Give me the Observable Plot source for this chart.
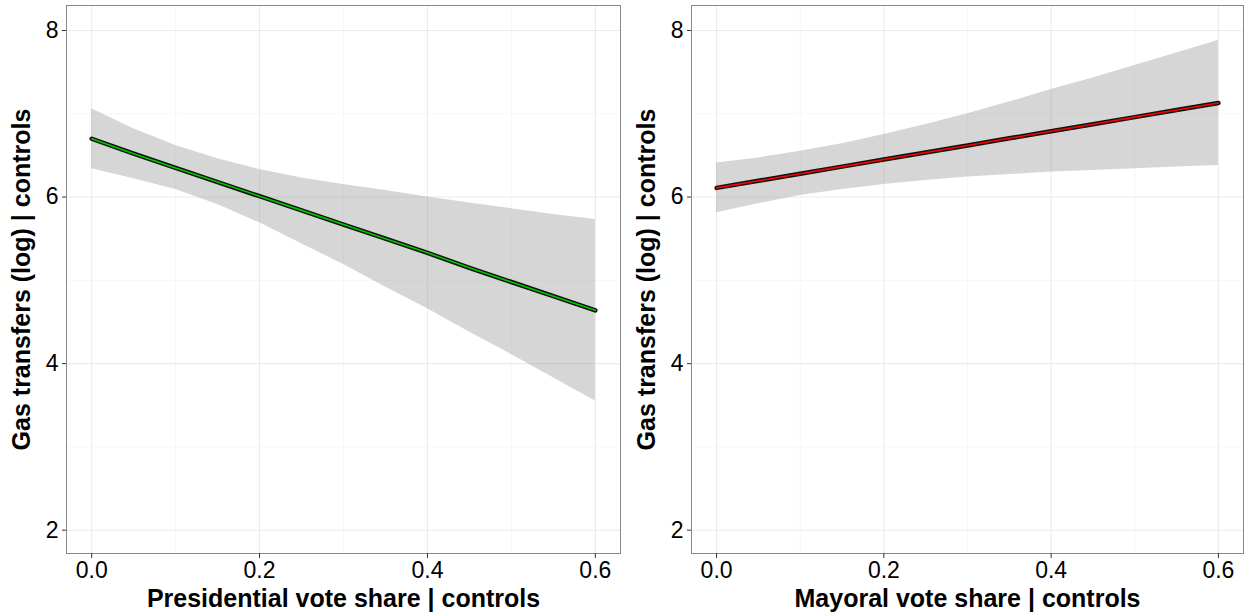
<!DOCTYPE html>
<html><head><meta charset="utf-8">
<script src="https://cdn.jsdelivr.net/npm/d3@7"></script>
<script src="https://cdn.jsdelivr.net/npm/@observablehq/plot@0.6"></script>
<style>
body{margin:0;background:#fff;}
#wrap{display:flex;width:1248px;height:615px;}
svg{font-family:"Liberation Sans",Arial,sans-serif;}
g[aria-label="x-axis label"] text, g[aria-label="y-axis label"] text{font-size:25px;font-weight:bold;fill:#000;}
</style></head><body><div id="wrap"></div>
<script>
// x positions of the fitted line / confidence band
const xs = [0, 0.05, 0.1, 0.15, 0.2, 0.25, 0.3, 0.35, 0.4, 0.45, 0.5, 0.55, 0.6];
// Presidential panel
const presFit   = [6.70, 6.52, 6.35, 6.18, 6.01, 5.84, 5.67, 5.50, 5.33, 5.15, 4.98, 4.81, 4.64];
const presUpper = [7.06, 6.82, 6.62, 6.46, 6.33, 6.23, 6.15, 6.08, 6.00, 5.93, 5.86, 5.79, 5.73];
const presLower = [6.34, 6.22, 6.09, 5.91, 5.69, 5.44, 5.19, 4.92, 4.66, 4.38, 4.11, 3.83, 3.55];
// Mayoral panel
const mayFit    = [6.11, 6.195, 6.28, 6.365, 6.45, 6.535, 6.62, 6.705, 6.79, 6.875, 6.96, 7.045, 7.13];
const mayUpper  = [6.41, 6.47, 6.55, 6.64, 6.75, 6.87, 7.00, 7.14, 7.29, 7.43, 7.58, 7.73, 7.88];
const mayLower  = [5.81, 5.92, 6.02, 6.09, 6.15, 6.20, 6.24, 6.27, 6.30, 6.32, 6.34, 6.36, 6.38];

const xMajorTicks = [0, 0.2, 0.4, 0.6];
const xMinorTicks = [0.1, 0.3, 0.5];
const yMajorTicks = [2, 4, 6, 8];
const yMinorTicks = [3, 5, 7];
const yLabel = "Gas transfers (log) | controls";
const xLabelPres = "Presidential vote share | controls";
const xLabelMay = "Mayoral vote share | controls";
const presColor = "#00c800";
const mayColor = "#ff0000";

function panel(fit, up, lo, xlabel, color, mL, mR) {
  const data = xs.map((x, i) => ({x, fit: fit[i], up: up[i], lo: lo[i]}));
  return Plot.plot({
    width: 624, height: 615,
    marginLeft: mL, marginRight: mR, marginTop: 5, marginBottom: 62,
    x: {domain: [-0.03, 0.63]},
    y: {domain: [1.72, 8.3]},
    style: {fontFamily: '"Liberation Sans", Arial, sans-serif', fontSize: "22px", color: "#000", background: "#fff", overflow: "visible"},
    marks: [
      Plot.ruleX(xMinorTicks, {stroke: "#f4f4f4", strokeWidth: 0.7}),
      Plot.ruleY(yMinorTicks, {stroke: "#f4f4f4", strokeWidth: 0.7}),
      Plot.ruleX(xMajorTicks, {stroke: "#ebebeb", strokeWidth: 1.1}),
      Plot.ruleY(yMajorTicks, {stroke: "#ebebeb", strokeWidth: 1.1}),
      Plot.areaY(data, {x: "x", y1: "lo", y2: "up", fill: "#999999", fillOpacity: 0.4}),
      Plot.line(data, {x: "x", y: "fit", stroke: "#111", strokeWidth: 4.5, strokeLinecap: "round"}),
      Plot.line(data, {x: "x", y: "fit", stroke: color, strokeWidth: 1.6}),
      Plot.frame({stroke: "#888", strokeWidth: 1}),
      Plot.axisX(xMajorTicks, {tickFormat: d3.format(".1f"), tickSize: 5, tickPadding: 3, stroke: "#333", fill: "#000", fontSize: 23,
        label: xlabel, labelAnchor: "center", labelArrow: "none", labelOffset: 53}),
      Plot.axisY(yMajorTicks, {tickFormat: d => String(d), tickSize: 4, tickPadding: 4, stroke: "#333", fill: "#000", fontSize: 23,
        label: yLabel, labelAnchor: "center", labelArrow: "none", labelOffset: 54})
    ]
  });
}

const wrap = document.getElementById("wrap");
wrap.appendChild(panel(presFit, presUpper, presLower, xLabelPres, presColor, 66, 4));
wrap.appendChild(panel(mayFit, mayUpper, mayLower, xLabelMay, mayColor, 67, 5));
</script></body></html>
